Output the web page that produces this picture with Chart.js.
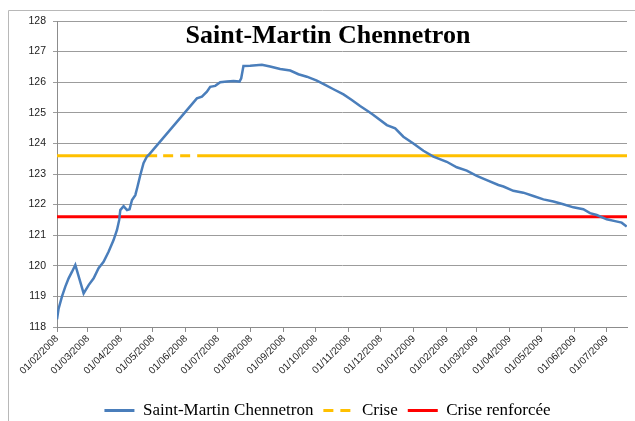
<!DOCTYPE html>
<html>
<head>
<meta charset="utf-8">
<script src="https://cdn.jsdelivr.net/npm/chart.js@4.4.1/dist/chart.umd.min.js"></script>
<style>
  html, body { margin: 0; padding: 0; background: #fff; }
  #wrap { width: 635px; height: 421px; }
</style>
</head>
<body>
<div id="wrap"><canvas id="niveauChart" width="635" height="421"></canvas></div>
<script>
/*--Data--*/
// day offsets from 01/02/2008
var tickDays = [0, 29, 60, 90, 121, 151, 182, 213, 243, 274, 304, 335, 366, 394, 425, 455, 486, 516];
var tickLabels = ["01/02/2008", "01/03/2008", "01/04/2008", "01/05/2008", "01/06/2008", "01/07/2008",
  "01/08/2008", "01/09/2008", "01/10/2008", "01/11/2008", "01/12/2008", "01/01/2009",
  "01/02/2009", "01/03/2009", "01/04/2009", "01/05/2009", "01/06/2009", "01/07/2009"];

var levelDays = [0, 1.5, 4.7, 7.8, 10.9, 14, 17.2, 25, 29.7, 34.4, 39, 43.7, 48.4, 53.1, 56.3, 58.4, 59.4,
  62.5, 65.7, 68.1, 70.4, 73.5, 75.6, 78.1, 81.2, 84.4, 86, 131.3, 136, 140.7, 143.8, 148.5, 153.2,
  159.5, 165.7, 171.3, 172.9, 175, 181.3, 192.3, 200, 209.5, 218.9, 226.6, 234.5, 243.9, 251.7,
  259.5, 268.9, 276.7, 284.5, 292.3, 297, 309.6, 317.4, 325.1, 334.5, 343.9, 353.3, 365.8, 375.2,
  384.6, 394, 403.4, 414.3, 419, 428.3, 437.7, 447.1, 456.5, 465.9, 475.2, 484.6, 494, 500.3, 506.6,
  516, 523.7, 530, 534.7];
var levelValues = [118.25, 118.6, 119.0, 119.32, 119.59, 119.8, 120.03, 119.1, 119.37, 119.59, 119.92,
  120.13, 120.46, 120.84, 121.17, 121.5, 121.82, 121.95, 121.82, 121.85, 122.15, 122.31, 122.59,
  122.95, 123.35, 123.57, 123.62, 125.47, 125.53, 125.69, 125.85, 125.88, 126.0, 126.02, 126.04,
  126.02, 126.13, 126.53, 126.54, 126.57, 126.51, 126.43, 126.38, 126.26, 126.18, 126.05, 125.91,
  125.77, 125.6, 125.42, 125.22, 125.04, 124.93, 124.6, 124.49, 124.22, 124.0, 123.76, 123.57,
  123.4, 123.22, 123.11, 122.94, 122.8, 122.64, 122.59, 122.45, 122.39, 122.28, 122.17, 122.1,
  122.01, 121.91, 121.85, 121.72, 121.66, 121.52, 121.46, 121.41, 121.28];

var criseLevel = 123.6;
var criseRenforceeLevel = 121.6;
var criseDays = [0, 94, 131.6, 535];      // dashed stretch between 2nd and 3rd point
var lastDay = 535;
/*--------*/

var levelPoints = levelDays.map(function(d, i){ return {x: d, y: levelValues[i]}; });
var crisePoints = criseDays.map(function(d){ return {x: d, y: criseLevel}; });
var renforceePoints = [{x: 0, y: criseRenforceeLevel}, {x: lastDay, y: criseRenforceeLevel}];

var framePlugin = {
  id: 'frame',
  beforeDraw: function(chart){
    var ctx = chart.ctx;
    ctx.save();
    ctx.strokeStyle = '#b8b8b8';
    ctx.lineWidth = 1;
    ctx.beginPath();
    ctx.moveTo(8.5, 430);
    ctx.lineTo(8.5, 10.5);
    ctx.lineTo(640, 10.5);
    ctx.stroke();
    ctx.restore();
  },
  afterLayout: function(chart){
    // nudge the legend to where the original sits
    var l = chart.legend;
    l.left += 14; l.right += 14;
    l.top += 8; l.bottom += 8;
  },
  afterDraw: function(chart){
    var ctx = chart.ctx;
    ctx.save();
    ctx.font = 'bold 26px "Liberation Serif", "Times New Roman", serif';
    ctx.fillStyle = '#000';
    ctx.textAlign = 'center';
    ctx.textBaseline = 'alphabetic';
    ctx.fillText('Saint-Martin Chennetron', 328, 43);
    ctx.restore();
  }
};

var niveauChart = new Chart('niveauChart', {
  type: 'line',
  data: {
    datasets: [
      {
        label: 'Saint-Martin Chennetron',
        data: levelPoints,
        borderColor: '#4a7ebb',
        backgroundColor: '#4a7ebb',
        borderWidth: 2.5,
        pointRadius: 0,
        tension: 0
      },
      {
        label: 'Crise',
        data: crisePoints,
        borderColor: '#ffc000',
        backgroundColor: '#ffc000',
        borderWidth: 3,
        borderDash: [10, 7],
        pointRadius: 0,
        segment: {
          borderDash: function(c){ return c.p0DataIndex === 1 ? [10, 7] : []; },
          borderDashOffset: function(c){ return c.p0DataIndex === 1 ? 11 : 0; }
        }
      },
      {
        label: 'Crise renforcée',
        data: renforceePoints,
        borderColor: '#ff0000',
        backgroundColor: '#ff0000',
        borderWidth: 3,
        pointRadius: 0
      }
    ]
  },
  plugins: [framePlugin],
  options: {
    responsive: false,
    animation: false,
    events: [],
    layout: { padding: { top: 21, right: 8, left: 0, bottom: 0 } },
    plugins: {
      title: { display: false },
      tooltip: { enabled: false },
      legend: {
        position: 'bottom',
        labels: {
          usePointStyle: true,
          pointStyleWidth: 30,
          boxHeight: 3,
          padding: 10,
          color: '#000',
          font: { family: '"Liberation Serif", "Times New Roman", serif', size: 17 },
          generateLabels: function(chart){
            return chart.data.datasets.map(function(ds, i){
              return {
                text: ds.label,
                datasetIndex: i,
                fillStyle: ds.borderColor,
                strokeStyle: ds.borderColor,
                lineWidth: 3,
                lineDash: ds.borderDash || [],
                pointStyle: 'line',
                hidden: false
              };
            });
          }
        }
      }
    },
    scales: {
      x: {
        type: 'linear',
        min: 0,
        max: lastDay,
        afterBuildTicks: function(scale){
          scale.ticks = tickDays.map(function(d){ return {value: d}; });
        },
        afterFit: function(scale){ scale.height = 57; },
        ticks: {
          autoSkip: false,
          minRotation: 45,
          maxRotation: 45,
          padding: 1,
          color: '#222',
          font: { family: '"Liberation Sans", Arial, sans-serif', size: 10 },
          callback: function(value){
            var i = tickDays.indexOf(value);
            return i >= 0 ? tickLabels[i] : '';
          }
        },
        grid: { drawOnChartArea: false, drawTicks: true, tickLength: 5, color: '#8c8c8c' },
        border: { color: '#8c8c8c', width: 1 }
      },
      y: {
        min: 118,
        max: 128,
        afterFit: function(scale){ scale.width = 57; },
        ticks: {
          stepSize: 1,
          padding: 7,
          color: '#222',
          font: { family: '"Liberation Sans", Arial, sans-serif', size: 10.5 }
        },
        grid: { color: '#9c9c9c', tickLength: 4 },
        border: { color: '#8c8c8c', width: 1 }
      }
    }
  }
});
</script>
</body>
</html>
